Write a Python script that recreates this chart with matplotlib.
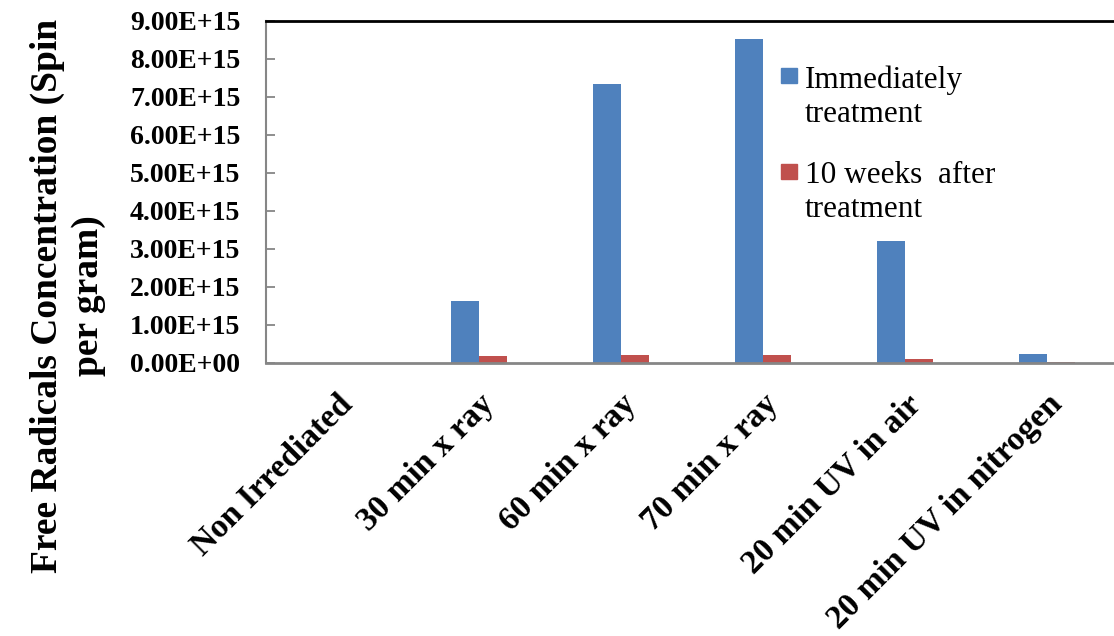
import matplotlib
matplotlib.use("Agg")
import matplotlib.pyplot as plt
import matplotlib.transforms as mtrans
import numpy as np
from matplotlib.ticker import FuncFormatter, MultipleLocator
from matplotlib.patches import Rectangle

categories = ["Non Irrediated", "30 min x ray", "60 min x ray", "70 min x ray",
              "20 min UV in air", "20 min UV in nitrogen"]
immediately = [0.0, 1.63e15, 7.33e15, 8.52e15, 3.22e15, 0.24e15]
after_10_weeks = [0.0, 0.18e15, 0.21e15, 0.22e15, 0.11e15, 0.03e15]
series_labels = ["Immediately\ntreatment", "10 weeks  after\ntreatment"]
y_label = "Free Radicals Concentration (Spin\nper gram)"

BLUE = "#4F81BD"
RED = "#C0504D"
AXIS_GRAY = "#868686"
SERIF = ["Liberation Serif", "DejaVu Serif"]

W, H = 1114, 636
fig = plt.figure(figsize=(W / 100, H / 100), dpi=100)
ax = fig.add_axes([266 / W, 1 - 363 / H, 852 / W, 342 / H])

x = np.arange(len(categories))
bw = 0.2
ax.bar(x - bw / 2, immediately, width=bw, color=BLUE, zorder=2)
ax.bar(x + bw / 2, after_10_weeks, width=bw, color=RED, zorder=2)

ax.set_xlim(-0.5, len(categories) - 0.5)
ax.set_ylim(0, 9e15)
ax.yaxis.set_major_locator(MultipleLocator(1e15))
ax.yaxis.set_major_formatter(FuncFormatter(lambda v, p: "%.2E" % v))

ax.tick_params(axis="y", direction="in", length=6.5, width=1.3, color=AXIS_GRAY,
               pad=18.5, labelsize=20)
ax.tick_params(axis="x", length=0, pad=0)
for t in ax.get_yticklabels():
    t.set_fontfamily(SERIF)
    t.set_fontweight("bold")

ax.set_xticks(x)
ax.set_xticklabels(categories, rotation=45, ha="right", va="top",
                   rotation_mode="anchor", fontsize=24, fontweight="bold",
                   family=SERIF)
offset = mtrans.ScaledTranslation(0 / 100, -26 / 100, fig.dpi_scale_trans)
for t in ax.get_xticklabels():
    t.set_transform(t.get_transform() + offset)

ax.spines["right"].set_visible(False)
ax.spines["left"].set_color(AXIS_GRAY)
ax.spines["left"].set_linewidth(1.5)
ax.spines["bottom"].set_color(AXIS_GRAY)
ax.spines["bottom"].set_linewidth(2)
ax.spines["top"].set_color("black")
ax.spines["top"].set_linewidth(2)

fig.text(68 / W, 1 - 296 / H, y_label, rotation=90, ha="center", va="center",
         multialignment="center", fontsize=27, fontweight="bold",
         family=SERIF, linespacing=1.25)

# legend drawn as colored squares beside wrapped labels
# (square top, baseline of the last label line, colour, label)
legend_rows = [(68, 122, BLUE, series_labels[0]), (164, 217, RED, series_labels[1])]
for top, base, col, lab in legend_rows:
    fig.patches.append(Rectangle((781 / W, 1 - (top + 15) / H), 16 / W, 15 / H,
                                 transform=fig.transFigure, color=col, figure=fig))
    fig.text(805 / W, 1 - base / H, lab, ha="left", va="baseline", fontsize=22.5,
             family=SERIF, linespacing=1.22)

fig.savefig("out.png", dpi=100)
